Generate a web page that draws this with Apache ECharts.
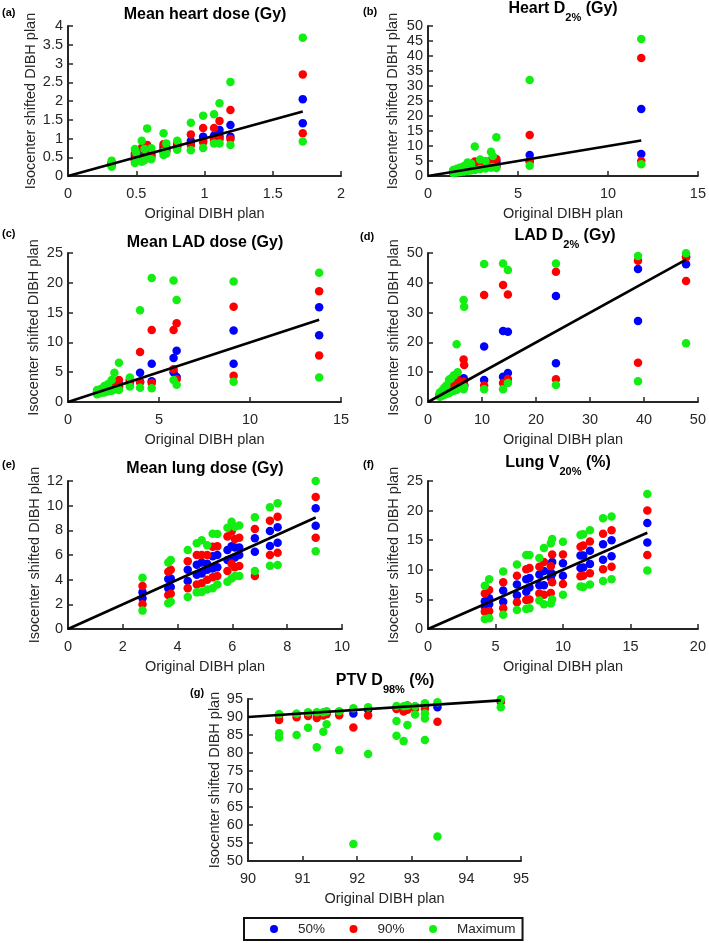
<!DOCTYPE html>
<html>
<head>
<meta charset="utf-8">
<script src="https://cdn.jsdelivr.net/npm/echarts@6/dist/echarts.min.js"></script>
<style>
html,body{margin:0;padding:0;background:#fff;}
#chart{width:709px;height:943px;}
</style>
</head>
<body>
<div id="chart"></div>
<script>
// ---------- DATA ----------
const seriesNames = ['50%', '90%', 'Maximum'];

// (a) Mean heart dose (Gy)
const aX = [0.32,0.49,0.50,0.54,0.56,0.58,0.61,0.70,0.72,0.80,0.90,0.99,1.07,1.11,1.19,1.72];
const aBlue = [[0.33,0.30],[0.55,0.45],[0.50,0.45],[0.62,0.50],[0.62,0.55],[0.72,0.60],[0.60,0.55],[0.78,0.70],[0.75,0.70],[0.85,0.80],[0.94,0.88],[1.05,0.95],[1.08,1.00],[1.23,1.05],[1.36,1.05],[2.05,1.41]];
const aRed = [[0.36,0.28],[0.60,0.42],[0.55,0.42],[0.75,0.45],[0.68,0.50],[0.83,0.55],[0.65,0.50],[0.85,0.65],[0.78,0.66],[0.90,0.78],[1.11,0.83],[1.28,0.90],[1.28,0.97],[1.47,0.98],[1.76,0.99],[2.71,1.14]];
const aGreen = [[0.41,0.25],[0.72,0.35],[0.62,0.40],[0.94,0.38],[0.72,0.42],[1.27,0.48],[0.74,0.45],[1.14,0.56,0.65],[0.87,0.60],[0.94,0.70],[1.42,0.69],[1.61,0.75],[1.65,0.87],[1.94,0.87],[2.51,0.83],[3.69,0.92]];
const aLine = [0, 1.72];

// (b) Heart D2% (Gy)
const bX = [1.4,1.6,1.8,2.0,2.2,2.4,2.6,2.9,3.2,3.5,3.6,3.8,5.65,11.85];
const bBlue = [[1.5,1.2],[1.8,1.4],[2.0,1.6],[2.3,1.8],[2.6,2.0],[2.8,2.2],[3.5,2.4],[3.5,2.7],[3.8,3.0],[4.5,3.2],[4.2,3.4],[4.8,3.5],[7.0,5.0],[22.3,7.3]];
const bRed = [[1.7,1.1],[2.0,1.3],[2.3,1.5],[2.7,1.6],[3.2,1.8],[3.4,2.0],[4.8,2.2],[4.2,2.5],[4.3,2.8],[5.2,3.0],[5.0,3.2],[5.7,3.2],[13.7,4.8],[39.3,5.0]];
const bGreen = [[2.0,1.0],[2.4,1.2],[2.8,1.3],[3.3,1.5],[4.5,1.7],[4.2,1.9],[9.8,2.0],[5.5,2.3],[5.0,2.5],[8.1,2.8],[6.7,3.0],[12.9,2.7],[32.0,3.4],[45.7,3.9]];
const bLine = [0, 11.85];

// (c) Mean LAD dose (Gy)
const cX = [1.6,1.8,2.0,2.2,2.4,2.55,2.8,3.4,3.96,4.6,5.8,5.97,9.1,13.8];
const cBlue = [[1.7,1.5],[1.9,1.7],[2.1,1.9],[2.4,2.1],[2.8,2.3],[3.0,2.4],[3.1,2.6],[3.6,3.2],[4.9,3.4],[6.4,3.5],[7.4,5.0],[8.6,4.2],[12.0,6.4],[15.9,11.2]];
const cRed = [[1.8,1.4],[2.0,1.6],[2.3,1.8],[2.6,2.0],[3.1,2.1],[3.4,2.3],[3.7,2.4],[3.8,3.0],[8.4,3.3],[12.1,3.2],[12.1,5.5],[13.2,3.8],[16.0,4.4],[18.6,7.8]];
const cGreen = [[2.0,1.3],[2.2,1.5],[2.7,1.6],[3.0,1.8],[3.7,1.9],[4.9,2.1],[6.6,2.0],[4.1,2.6],[15.4,2.4],[20.8,2.3],[20.4,3.7],[17.1,2.9],[20.2,3.4],[21.7,4.1]];
const cLine = [0, 13.8];

// (d) LAD D2% (Gy)
const dX = [2.2,2.6,3.0,3.4,3.9,4.3,4.8,5.3,5.5,6.6,6.7,10.4,13.9,14.8,23.7,38.9,47.8];
const dBlue = [[2.5,2.0],[3.0,2.4],[3.5,2.8],[4.0,3.1],[4.6,3.6],[5.0,4.0],[5.6,4.5],[6.5,5.0],[6.0,5.2],[8.0,6.0],[7.5,5.5],[18.6,7.4],[23.8,8.5],[23.6,9.7],[35.6,13.0],[44.6,27.2],[48.8,46.2]];
const dRed = [[2.8,1.9],[3.3,2.3],[3.9,2.6],[4.6,2.9],[5.5,3.3],[6.0,3.7],[7.0,4.2],[8.0,4.6],[6.8,4.9],[14.3,6.8],[12.4,5.8],[35.9,5.5],[39.3,6.4],[36.1,7.7],[43.7,7.6],[47.4,13.2],[48.6,40.6]];
const dGreen = [[3.2,1.8],[3.8,2.1],[4.8,2.4],[5.5,2.7],[7.5,3.0],[8.0,3.4],[9.0,3.8],[19.4,4.0],[10.0,4.5],[34.2,4.3],[32.0,5.0],[46.3,4.3],[46.5,4.3],[44.3,6.4],[46.5,5.7],[49.0,7.0],[49.9,19.7]];
const dLine = [0, 47.8];

// (e) Mean lung dose (Gy)
const eX = [2.72,3.66,3.75,4.37,4.70,4.88,5.08,5.28,5.45,5.82,5.97,6.09,6.25,6.82,7.37,7.65,9.04];
const eBlue = [[2.97,2.49],[4.05,3.30],[4.10,3.40],[4.80,3.90],[5.20,4.40],[5.40,4.50],[5.30,4.80],[5.90,4.90],[6.00,5.00],[6.40,5.60],[6.70,5.70],[6.60,5.80],[6.60,6.00],[7.36,6.27],[7.95,6.73],[8.25,7.00],[9.79,8.38]];
const eRed = [[3.49,2.00],[4.65,2.76],[4.80,2.85],[5.50,3.30],[6.00,3.60],[6.00,3.70],[6.00,4.00],[6.67,4.20],[6.70,4.30],[7.50,4.70],[7.90,5.30],[7.30,5.00],[7.40,5.10],[8.10,4.30],[8.78,6.00],[9.10,6.19],[10.70,7.40]];
const eGreen = [[4.16,1.49],[5.40,2.08],[5.60,2.20],[6.40,2.60],[6.95,2.97],[7.20,3.00],[6.80,3.20],[7.73,3.30],[7.70,3.60],[8.20,3.84],[8.70,4.10],[8.30,4.30],[8.40,4.30],[9.06,4.70],[9.87,5.13],[10.20,5.19],[12.00,6.30]];
const eLine = [0, 9.04];

// (f) Lung V20% (%)
const fX = [4.21,4.53,5.57,6.59,7.28,7.52,8.25,8.59,9.1,9.2,10.0,11.3,11.5,12.0,12.97,13.6,16.25];
const fBlue = [[4.7,3.8],[5.2,4.2],[6.5,4.6],[7.5,5.7],[8.4,6.3],[8.6,7.0],[9.2,7.4],[9.8,7.4],[9.5,8.6],[11.3,9.3],[11.1,9.0],[12.4,10.3],[12.4,10.4],[13.2,11.0],[14.3,11.7],[15.0,12.3],[17.9,14.6]];
const fRed = [[6.0,2.9],[6.6,3.0],[7.9,3.5],[9.0,4.5],[10.1,4.9],[10.3,5.0],[10.5,6.0],[11.3,5.8],[10.6,6.1],[12.6,7.9],[12.6,7.6],[13.9,8.9],[14.1,9.0],[14.8,9.4],[16.1,10.1],[16.7,10.5],[20.0,12.5]];
const fGreen = [[7.3,1.7],[8.4,1.8],[9.7,2.4],[10.9,3.2],[12.5,3.4],[12.5,3.5],[12.0,4.8],[13.7,4.2],[14.5,4.3],[15.2,5.0],[14.75,5.8],[15.9,7.2],[16.0,7.1],[16.7,7.5],[18.7,8.1],[19.0,8.4],[22.8,9.9]];
const fLine = [0, 16.25];

// (g) PTV D98% (%)
const gX = [90.57,90.89,91.1,91.26,91.38,91.44,91.67,91.93,92.2,92.72,92.85,92.92,93.06,93.24,93.47,94.63];
const gBlue = [[90.6],[90.8],[91.0],[91.0],[91.1],[91.3],[91.3],[91.0],[92.0],[92.6],[92.7],[92.9],[92.9],[93.0],[92.7],[94.5]];
const gRed = [[89.2,90.3],[89.9],[90.3],[89.7],[90.4],[90.8],[90.5],[87.1],[90.4],[92.2],[91.5],[93.2,92.0],[92.3],[92.3],[88.7],[94.2]];
const gGreen = [[90.8,85.5,84.3],[90.9,85.0],[91.3,87.0],[91.3,81.6],[91.3,85.9],[91.6,88.0],[91.6,80.8],[92.4,54.7],[92.7,79.7],[93.05,88.9,84.8],[93.0,83.3],[93.1,87.8],[93.0,90.7],[93.8,91.0,89.6,83.6],[94.1,56.8],[94.9,92.7]];
const gLine = [90, 94.63];

// axis ranges / ticks
const axisX = [[0,2,0.5],[0,15,5],[0,15,5],[0,50,10],[0,10,2],[0,20,5],[90,95,1]];
const axisY = [[0,4,0.5],[0,50,5],[0,25,5],[0,50,10],[0,12,2],[0,25,5],[50,95,5]];

// ---------- LAYOUT / STYLE ----------
const FONT = '"Liberation Sans", Arial, Helvetica, sans-serif';
const AX = '#262626';
const colors = ['#0000ff', '#ff0000', '#12ee12'];
const panels = [
  {x:aX, ys:[aBlue,aRed,aGreen], line:aLine},
  {x:bX, ys:[bBlue,bRed,bGreen], line:bLine},
  {x:cX, ys:[cBlue,cRed,cGreen], line:cLine},
  {x:dX, ys:[dBlue,dRed,dGreen], line:dLine},
  {x:eX, ys:[eBlue,eRed,eGreen], line:eLine},
  {x:fX, ys:[fBlue,fRed,fGreen], line:fLine},
  {x:gX, ys:[gBlue,gRed,gGreen], line:gLine}
];
const gridPos = [
  {left:68, top:26, width:273, height:150},
  {left:428, top:26, width:274, height:150},
  {left:68, top:253, width:273, height:149},
  {left:428, top:253, width:274, height:149},
  {left:68, top:481, width:274, height:148},
  {left:428, top:481, width:274, height:148},
  {left:248, top:699, width:273, height:162}
];
const yNameGap = [30, 27.5, 26.5, 26.5, 23, 26.5, 25.5];

function axisBase(min, max, interval) {
  return {
    type: 'value', min: min, max: max, interval: interval,
    axisLine: {show: true, onZero: false, lineStyle: {color: AX, width: 2}},
    axisTick: {show: true, inside: true, length: 5, lineStyle: {color: AX, width: 1.5}},
    axisLabel: {color: AX, fontSize: 14.5, fontFamily: FONT, margin: 10},
    splitLine: {show: false},
    nameLocation: 'middle',
    nameTextStyle: {color: AX, fontSize: 14.5, fontFamily: FONT}
  };
}

const xAxes = [], yAxes = [], series = [];
panels.forEach((p, i) => {
  const xa = axisBase(axisX[i][0], axisX[i][1], axisX[i][2]);
  xa.gridIndex = i; xa.name = 'Original DIBH plan'; xa.nameGap = 30;
  xAxes.push(xa);
  const ya = axisBase(axisY[i][0], axisY[i][1], axisY[i][2]);
  ya.gridIndex = i; ya.name = 'Isocenter shifted DIBH plan'; ya.nameGap = yNameGap[i];
  ya.axisLabel.margin = 5;
  yAxes.push(ya);
  p.ys.forEach((arr, c) => {
    const data = [];
    p.x.forEach((xv, j) => arr[j].forEach(yv => data.push([xv, yv])));
    series.push({
      type: 'scatter', name: seriesNames[c], xAxisIndex: i, yAxisIndex: i,
      data: data, symbol: 'circle', symbolSize: 8.5,
      itemStyle: {color: colors[c], opacity: 1}, silent: true
    });
  });
  series.push({
    type: 'line', xAxisIndex: i, yAxisIndex: i, symbol: 'none', silent: true,
    data: [[p.line[0], p.line[0]], [p.line[1], p.line[1]]],
    lineStyle: {color: '#000', width: 2.6}, z: 5
  });
});

const tStyle = {fontFamily: FONT, fontWeight: 'bold', fontSize: 16, color: '#000', lineHeight: 20};
const subStyle = {fontFamily: FONT, fontWeight: 'bold', fontSize: 11, color: '#000', lineHeight: 11, padding: [18,0,0,0]};
const rich = {m: tStyle, s: subStyle};
function plainTitle(text, cx, top) {
  return {text: text, left: cx, top: top, textAlign: 'center', padding: 0, textStyle: tStyle};
}
function richTitle(pre, sub, post, cx, top) {
  return {text: '{m|' + pre + '}{s|' + sub + '}{m|' + post + '}', left: cx, top: top, textAlign: 'center', padding: 0,
    textStyle: Object.assign({}, tStyle, {rich: rich})};
}
function label(text, x, y) {
  return {text: text, left: x, top: y, padding: 0,
    textStyle: {fontFamily: FONT, fontWeight: 'bold', fontSize: 11, color: '#000', lineHeight: 12}};
}

const titles = [
  plainTitle('Mean heart dose (Gy)', 205, 5),
  richTitle('Heart D', '2%', ' (Gy)', 563, -1.5),
  plainTitle('Mean LAD dose (Gy)', 205, 233),
  richTitle('LAD D', '2%', ' (Gy)', 565, 226),
  plainTitle('Mean lung dose (Gy)', 205, 459),
  richTitle('Lung V', '20%', ' (%)', 558, 453),
  richTitle('PTV D', '98%', ' (%)', 385, 670.5),
  label('(a)', 2, 7), label('(b)', 363, 6), label('(c)', 2, 228), label('(d)', 360, 231),
  label('(e)', 2, 459), label('(f)', 363, 459), label('(g)', 190, 687)
];

const chart = echarts.init(document.getElementById('chart'), null, {renderer: 'canvas'});
chart.setOption({
  animation: false,
  backgroundColor: '#fff',
  title: titles,
  grid: gridPos.map(g => Object.assign({containLabel: false}, g)),
  xAxis: xAxes,
  yAxis: yAxes,
  legend: {
    data: seriesNames, left: 244, top: 918, orient: 'horizontal',
    icon: 'circle', itemWidth: 38, itemHeight: 8, itemGap: 24.5,
    padding: [4, 7, 4, 26], borderColor: '#111', borderWidth: 2, selectedMode: false,
    textStyle: {fontFamily: FONT, fontSize: 13.5, color: AX}
  },
  series: series
});
</script>
</body>
</html>
